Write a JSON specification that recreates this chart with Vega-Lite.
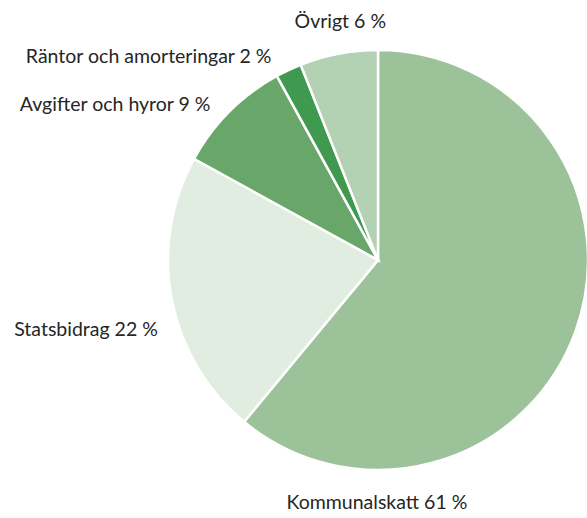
{
  "$schema": "https://vega.github.io/schema/vega-lite/v6.json",
  "autosize": "none",
  "width": 418,
  "height": 420,
  "padding": {"left": 169, "top": 50, "right": 0, "bottom": 48},
  "background": "white",
  "config": {"view": {"stroke": null}, "text": {"font": "Lato", "fontSize": 19.5, "color": "#262626"}},
  "data": {"values": [
    {"label": "Kommunalskatt 61 %", "category": "Kommunalskatt", "value": 61, "order": 1},
    {"label": "Statsbidrag 22 %", "category": "Statsbidrag", "value": 22, "order": 2},
    {"label": "Avgifter och hyror 9 %", "category": "Avgifter och hyror", "value": 9, "order": 3},
    {"label": "Räntor och amorteringar 2 %", "category": "Räntor och amorteringar", "value": 2, "order": 4},
    {"label": "Övrigt 6 %", "category": "Övrigt", "value": 6, "order": 5}
  ]},
  "layer": [
    {
      "mark": {"type": "arc", "outerRadius": 210, "stroke": "white", "strokeWidth": 2.5},
      "encoding": {
        "theta": {"field": "value", "type": "quantitative", "stack": true},
        "order": {"field": "order", "type": "quantitative"},
        "color": {"field": "category", "type": "nominal", "legend": null,
          "scale": {"domain": ["Kommunalskatt", "Statsbidrag", "Avgifter och hyror", "Räntor och amorteringar", "Övrigt"],
                    "range": ["#9cc29a", "#e1ede0", "#69a66a", "#3f9a50", "#b3d1b3"]}}
      }
    },
    {
      "transform": [{"filter": "datum.order == 1"}],
      "mark": {"type": "text", "radius": 243, "align": "center", "baseline": "middle"},
      "encoding": {"theta": {"datum": 50.07, "type": "quantitative"}, "text": {"field": "label"}}
    },
    {
      "transform": [{"filter": "datum.order == 2"}],
      "mark": {"type": "text", "radius": 231, "align": "right", "baseline": "middle"},
      "encoding": {"theta": {"datum": 70.1, "type": "quantitative"}, "text": {"field": "label"}}
    },
    {
      "transform": [{"filter": "datum.order == 3"}],
      "mark": {"type": "text", "radius": 228.5, "align": "right", "baseline": "middle"},
      "encoding": {"theta": {"datum": 86.9, "type": "quantitative"}, "text": {"field": "label"}}
    },
    {
      "transform": [{"filter": "datum.order == 4"}],
      "mark": {"type": "text", "radius": 229, "align": "right", "baseline": "middle"},
      "encoding": {"theta": {"datum": 92.3, "type": "quantitative"}, "text": {"field": "label"}}
    },
    {
      "transform": [{"filter": "datum.order == 5"}],
      "mark": {"type": "text", "radius": 241, "align": "center", "baseline": "middle"},
      "encoding": {"theta": {"datum": 97.5, "type": "quantitative"}, "text": {"field": "label"}}
    }
  ]
}
